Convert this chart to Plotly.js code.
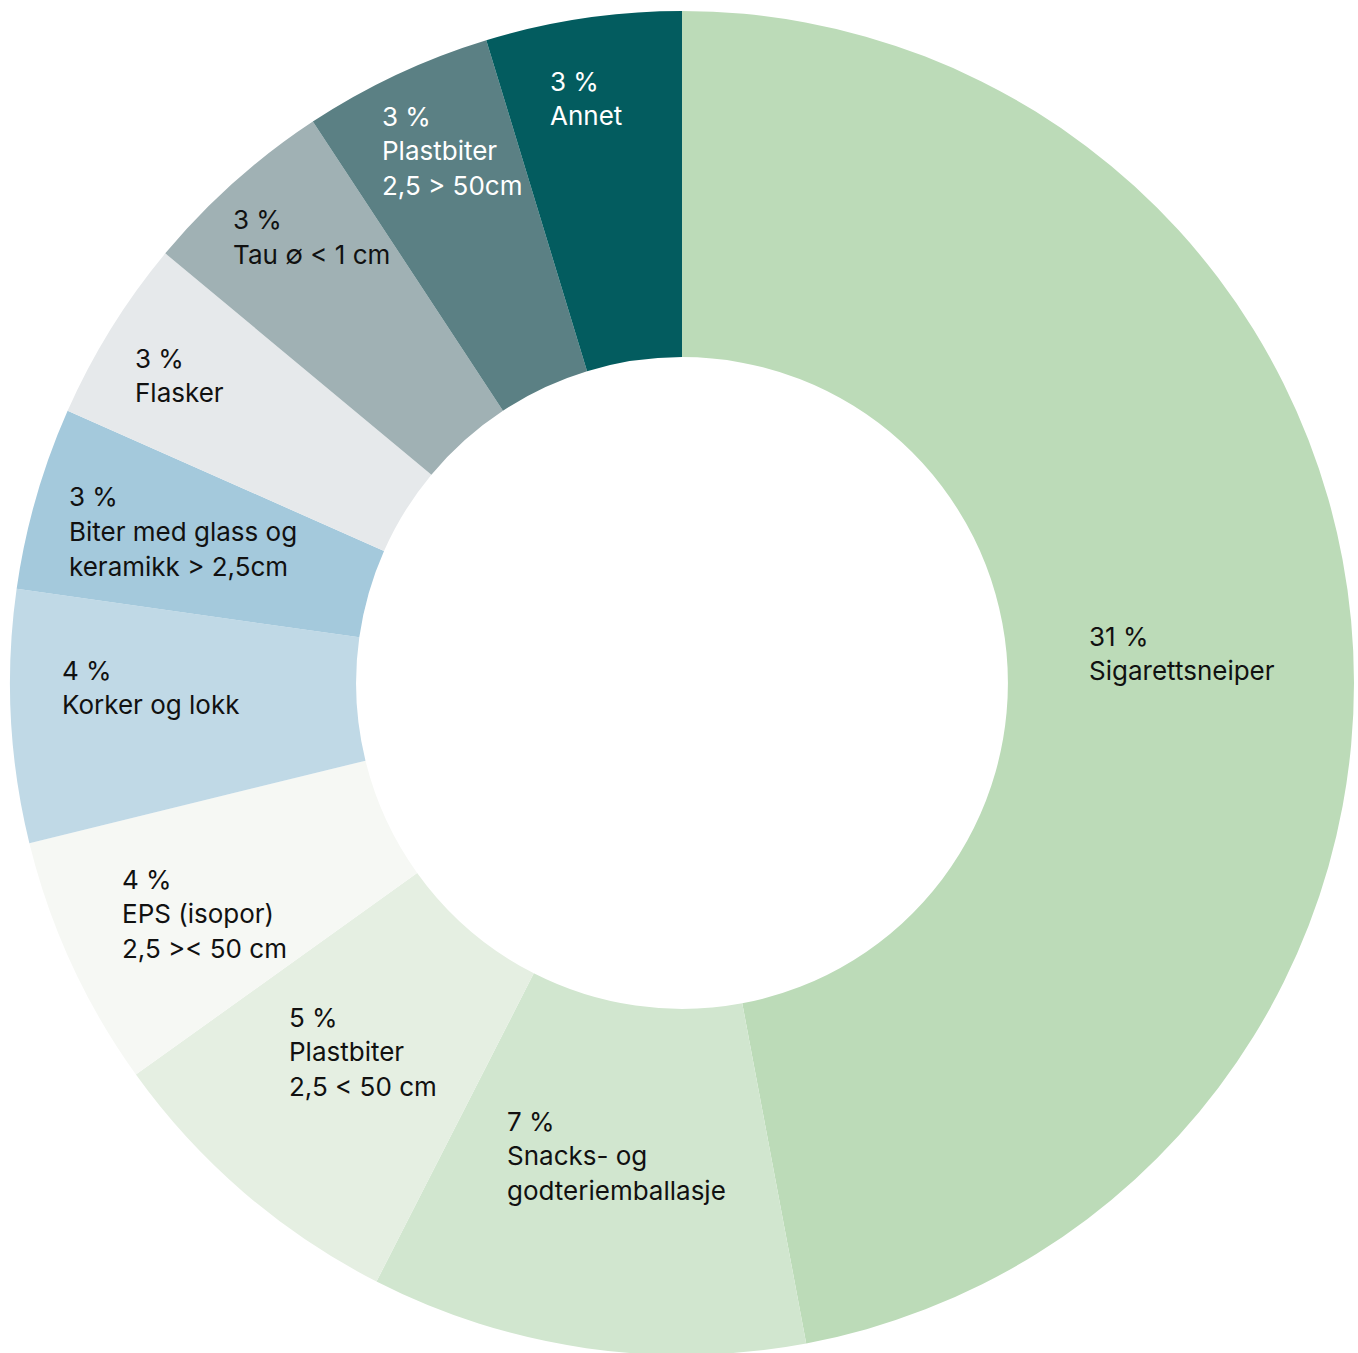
<!DOCTYPE html>
<html>
<head>
<meta charset="utf-8">
<script src="https://cdn.plot.ly/plotly-3.0.1.min.js"></script>
<style>
html,body{margin:0;padding:0;overflow:hidden;background:#fff;}
#chart{width:1358px;height:1380px;}
</style>
</head>
<body>
<div id="chart"></div>
<script>
// Data
const categories = [
  "Sigarettsneiper",
  "Snacks- og<br>godteriemballasje",
  "Plastbiter<br>2,5 < 50 cm",
  "EPS (isopor)<br>2,5 >< 50 cm",
  "Korker og lokk",
  "Biter med glass og<br>keramikk > 2,5cm",
  "Flasker",
  "Tau ∅ < 1 cm",
  "Plastbiter<br>2,5 > 50cm",
  "Annet"
];
const values = [31, 6.9, 5, 4, 4, 2.9, 2.9, 3.1, 3, 3.1];
const pctLabels = ["31 %", "7 %", "5 %", "4 %", "4 %", "3 %", "3 %", "3 %", "3 %", "3 %"];

// Styles
const colors = ["#bcdbb8", "#d1e6cf", "#e5efe2", "#f6f8f4", "#c0d9e6", "#a4c9dc", "#e6e9eb", "#a0b1b4", "#5b8084", "#035c5f"];
const textColors = ["#111", "#111", "#111", "#111", "#111", "#111", "#111", "#111", "#fff", "#fff"];
// label anchor positions in pixels (left x, centre y of first line)
const labelPos = [[1090,636],[508,1121],[290,1017],[123,879],[63,670],[70,497],[136,358],[234,220],[383,116],[551,81]];
const lineStep = 34.7;

const M = {l:10, r:4, t:11, b:25};
const W = 1358, H = 1380;
const pw = W - M.l - M.r, ph = H - M.t - M.b;

const annotations = [];
categories.forEach((c, i) => {
  const lines = [pctLabels[i]].concat(c.split("<br>"));
  lines.forEach((ln, j) => {
    const px = labelPos[i][0] - 3, py = labelPos[i][1] + j * lineStep;
    annotations.push({
      xref: "paper", yref: "paper",
      x: (px - M.l) / pw, y: 1 - (py - M.t) / ph,
      xanchor: "left", yanchor: "middle",
      text: ln.replace(/</g, "&lt;").replace(/>/g, "&gt;"),
      showarrow: false,
      font: {family: "Inter, 'Noto Sans', sans-serif", size: 26, color: textColors[i]}
    });
  });
});

const trace = {
  type: "pie",
  labels: categories,
  values: values,
  hole: 0.485,
  sort: false,
  direction: "clockwise",
  rotation: 0,
  textinfo: "none",
  hoverinfo: "label+value",
  marker: {colors: colors, line: {width: 0}}
};

Plotly.newPlot("chart", [trace], {
  width: W, height: H,
  margin: M,
  showlegend: false,
  paper_bgcolor: "#fff",
  annotations: annotations
}, {displayModeBar: false, staticPlot: true});
</script>
</body>
</html>
